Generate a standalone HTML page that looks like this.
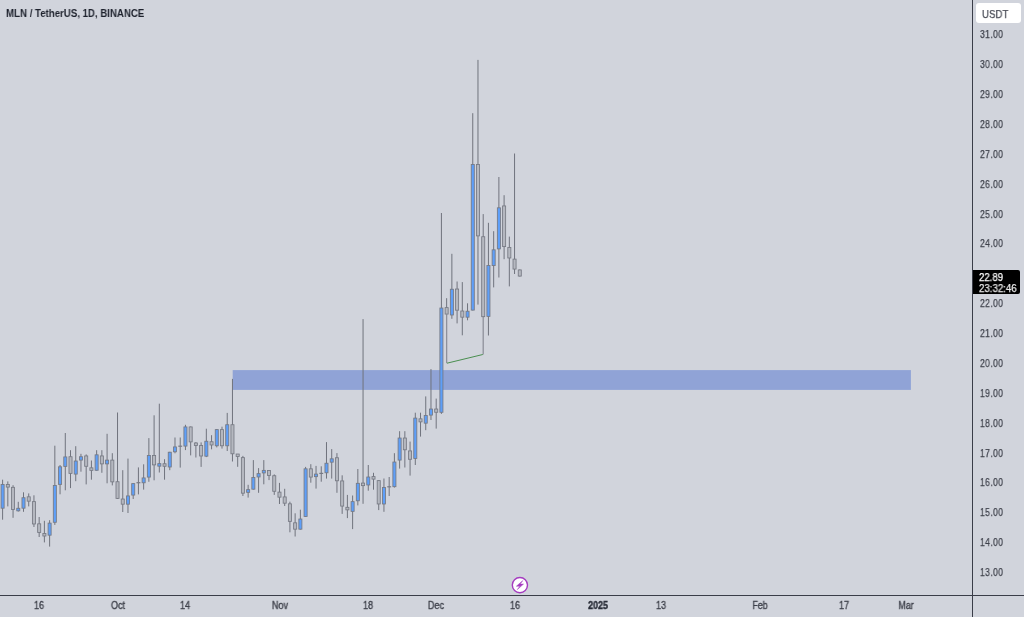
<!DOCTYPE html>
<html><head><meta charset="utf-8"><style>
html,body{margin:0;padding:0;background:#d1d4dc;}
body{width:1024px;height:617px;overflow:hidden;background:#d1d4dc;position:relative;font-family:"Liberation Sans",sans-serif;}
svg{position:absolute;left:0;top:0;}
.pl,.dl,.title,.usdt span,.tag div{will-change:transform;}
.pl,.usdt span,.tag div{-webkit-text-stroke:0.25px currentColor;}
.dl{-webkit-text-stroke:0.35px currentColor;}
.title{position:absolute;left:5.5px;top:7px;font-size:10.5px;line-height:12px;font-weight:bold;color:#1e222d;white-space:nowrap;transform:scaleX(0.92);transform-origin:0 0;}
.pl{position:absolute;left:980px;width:40px;height:14px;line-height:14px;font-size:11px;color:#3e414b;letter-spacing:0.45px;transform:scaleX(0.78);transform-origin:0 50%;white-space:nowrap;}
.dl{position:absolute;top:599px;width:60px;height:14px;line-height:14px;text-align:center;font-size:10px;color:#3e414b;transform:scaleX(0.9);transform-origin:50% 50%;}
.dl.b{font-weight:bold;color:#2a2e39;}
.usdt{position:absolute;left:976px;top:3px;width:44.5px;height:19.5px;background:#fff;border-radius:3px;}
.usdt span{position:absolute;left:6.3px;top:3.8px;font-size:11px;line-height:14px;color:#4a4d57;transform:scaleX(0.88);transform-origin:0 0;}
.tag{position:absolute;left:973px;top:270px;width:47px;height:24px;background:#000;border-radius:0 2px 2px 0;}
.tag div{position:absolute;left:6.4px;font-size:10px;line-height:11px;color:#fff;white-space:nowrap;transform-origin:0 0;}
</style></head><body>
<svg width="1024" height="617" viewBox="0 0 1024 617" shape-rendering="geometricPrecision">
<rect x="232.7" y="370.1" width="678.2" height="19.8" fill="#90a3d6"/>
<line x1="2.60" y1="479.7" x2="2.60" y2="519.7" stroke="#70737d" stroke-width="1"/>
<rect x="1.08" y="484.43" width="3.05" height="23.75" fill="#5e9ff9" stroke="#767983" stroke-width="0.85"/>
<line x1="7.82" y1="481.4" x2="7.82" y2="506.4" stroke="#70737d" stroke-width="1"/>
<rect x="6.30" y="484.53" width="3.05" height="2.55" fill="#b5b8c0" stroke="#767983" stroke-width="0.85"/>
<line x1="13.05" y1="485.2" x2="13.05" y2="517.8" stroke="#70737d" stroke-width="1"/>
<rect x="11.52" y="487.32" width="3.05" height="22.15" fill="#b5b8c0" stroke="#767983" stroke-width="0.85"/>
<line x1="18.27" y1="501.8" x2="18.27" y2="511.6" stroke="#70737d" stroke-width="1"/>
<rect x="16.75" y="508.28" width="3.05" height="2.55" fill="#5e9ff9" stroke="#767983" stroke-width="0.85"/>
<line x1="23.50" y1="492.3" x2="23.50" y2="511.8" stroke="#70737d" stroke-width="1"/>
<rect x="21.97" y="497.73" width="3.05" height="10.45" fill="#5e9ff9" stroke="#767983" stroke-width="0.85"/>
<line x1="28.72" y1="493.4" x2="28.72" y2="506.4" stroke="#70737d" stroke-width="1"/>
<rect x="27.20" y="496.82" width="3.05" height="4.35" fill="#b5b8c0" stroke="#767983" stroke-width="0.85"/>
<line x1="33.94" y1="495.3" x2="33.94" y2="527.0" stroke="#70737d" stroke-width="1"/>
<rect x="32.42" y="501.62" width="3.05" height="22.35" fill="#b5b8c0" stroke="#767983" stroke-width="0.85"/>
<line x1="39.17" y1="517.0" x2="39.17" y2="537.0" stroke="#70737d" stroke-width="1"/>
<rect x="37.64" y="523.82" width="3.05" height="8.65" fill="#b5b8c0" stroke="#767983" stroke-width="0.85"/>
<line x1="44.39" y1="520.8" x2="44.39" y2="542.4" stroke="#70737d" stroke-width="1"/>
<rect x="42.87" y="533.47" width="3.05" height="2.55" fill="#b5b8c0" stroke="#767983" stroke-width="0.85"/>
<line x1="49.62" y1="520.2" x2="49.62" y2="546.6" stroke="#70737d" stroke-width="1"/>
<rect x="48.09" y="523.12" width="3.05" height="12.05" fill="#5e9ff9" stroke="#767983" stroke-width="0.85"/>
<line x1="54.84" y1="445.7" x2="54.84" y2="524.9" stroke="#70737d" stroke-width="1"/>
<rect x="53.31" y="485.43" width="3.05" height="36.85" fill="#5e9ff9" stroke="#767983" stroke-width="0.85"/>
<line x1="60.06" y1="465.0" x2="60.06" y2="494.3" stroke="#70737d" stroke-width="1"/>
<rect x="58.54" y="466.82" width="3.05" height="17.55" fill="#5e9ff9" stroke="#767983" stroke-width="0.85"/>
<line x1="65.29" y1="433.0" x2="65.29" y2="490.3" stroke="#70737d" stroke-width="1"/>
<rect x="63.76" y="456.93" width="3.05" height="9.45" fill="#5e9ff9" stroke="#767983" stroke-width="0.85"/>
<line x1="70.51" y1="450.2" x2="70.51" y2="488.1" stroke="#70737d" stroke-width="1"/>
<rect x="68.99" y="456.73" width="3.05" height="16.65" fill="#b5b8c0" stroke="#767983" stroke-width="0.85"/>
<line x1="75.74" y1="446.2" x2="75.74" y2="481.2" stroke="#70737d" stroke-width="1"/>
<rect x="74.21" y="461.03" width="3.05" height="13.05" fill="#5e9ff9" stroke="#767983" stroke-width="0.85"/>
<line x1="80.96" y1="453.8" x2="80.96" y2="471.7" stroke="#70737d" stroke-width="1"/>
<rect x="79.43" y="456.73" width="3.05" height="3.35" fill="#5e9ff9" stroke="#767983" stroke-width="0.85"/>
<line x1="86.18" y1="454.4" x2="86.18" y2="484.4" stroke="#70737d" stroke-width="1"/>
<rect x="84.66" y="455.93" width="3.05" height="10.35" fill="#b5b8c0" stroke="#767983" stroke-width="0.85"/>
<line x1="91.41" y1="460.5" x2="91.41" y2="479.7" stroke="#70737d" stroke-width="1"/>
<rect x="89.88" y="467.83" width="3.05" height="2.55" fill="#b5b8c0" stroke="#767983" stroke-width="0.85"/>
<line x1="96.63" y1="450.2" x2="96.63" y2="470.7" stroke="#70737d" stroke-width="1"/>
<rect x="95.11" y="454.82" width="3.05" height="15.45" fill="#5e9ff9" stroke="#767983" stroke-width="0.85"/>
<line x1="101.86" y1="450.2" x2="101.86" y2="472.8" stroke="#70737d" stroke-width="1"/>
<rect x="100.33" y="455.93" width="3.05" height="7.95" fill="#b5b8c0" stroke="#767983" stroke-width="0.85"/>
<line x1="107.08" y1="433.8" x2="107.08" y2="483.3" stroke="#70737d" stroke-width="1"/>
<rect x="105.55" y="460.12" width="3.05" height="3.75" fill="#5e9ff9" stroke="#767983" stroke-width="0.85"/>
<line x1="112.30" y1="453.2" x2="112.30" y2="485.4" stroke="#70737d" stroke-width="1"/>
<rect x="110.78" y="460.12" width="3.05" height="21.75" fill="#b5b8c0" stroke="#767983" stroke-width="0.85"/>
<line x1="117.53" y1="412.5" x2="117.53" y2="499.0" stroke="#70737d" stroke-width="1"/>
<rect x="116.00" y="481.73" width="3.05" height="16.65" fill="#b5b8c0" stroke="#767983" stroke-width="0.85"/>
<line x1="122.75" y1="470.2" x2="122.75" y2="512.0" stroke="#70737d" stroke-width="1"/>
<rect x="121.23" y="499.03" width="3.05" height="5.15" fill="#b5b8c0" stroke="#767983" stroke-width="0.85"/>
<line x1="127.98" y1="458.6" x2="127.98" y2="513.0" stroke="#70737d" stroke-width="1"/>
<rect x="126.45" y="495.93" width="3.05" height="8.25" fill="#5e9ff9" stroke="#767983" stroke-width="0.85"/>
<line x1="133.20" y1="483.2" x2="133.20" y2="499.0" stroke="#70737d" stroke-width="1"/>
<rect x="131.68" y="483.62" width="3.05" height="11.45" fill="#5e9ff9" stroke="#767983" stroke-width="0.85"/>
<line x1="138.42" y1="467.4" x2="138.42" y2="494.4" stroke="#70737d" stroke-width="1"/>
<line x1="136.47" y1="482.7" x2="140.37" y2="482.7" stroke="#767983" stroke-width="1.2"/>
<line x1="143.65" y1="464.3" x2="143.65" y2="489.6" stroke="#70737d" stroke-width="1"/>
<rect x="142.12" y="477.93" width="3.05" height="4.85" fill="#5e9ff9" stroke="#767983" stroke-width="0.85"/>
<line x1="148.87" y1="438.1" x2="148.87" y2="481.8" stroke="#70737d" stroke-width="1"/>
<rect x="147.35" y="455.43" width="3.05" height="21.65" fill="#5e9ff9" stroke="#767983" stroke-width="0.85"/>
<line x1="154.10" y1="415.3" x2="154.10" y2="480.3" stroke="#70737d" stroke-width="1"/>
<rect x="152.57" y="455.43" width="3.05" height="9.45" fill="#b5b8c0" stroke="#767983" stroke-width="0.85"/>
<line x1="159.32" y1="403.7" x2="159.32" y2="472.5" stroke="#70737d" stroke-width="1"/>
<rect x="157.80" y="463.62" width="3.05" height="2.55" fill="#5e9ff9" stroke="#767983" stroke-width="0.85"/>
<line x1="164.54" y1="459.2" x2="164.54" y2="479.7" stroke="#70737d" stroke-width="1"/>
<rect x="163.02" y="463.73" width="3.05" height="2.55" fill="#b5b8c0" stroke="#767983" stroke-width="0.85"/>
<line x1="169.77" y1="451.8" x2="169.77" y2="470.2" stroke="#70737d" stroke-width="1"/>
<rect x="168.24" y="452.23" width="3.05" height="14.75" fill="#5e9ff9" stroke="#767983" stroke-width="0.85"/>
<line x1="174.99" y1="437.5" x2="174.99" y2="453.3" stroke="#70737d" stroke-width="1"/>
<rect x="173.47" y="446.93" width="3.05" height="4.85" fill="#5e9ff9" stroke="#767983" stroke-width="0.85"/>
<line x1="180.22" y1="437.5" x2="180.22" y2="467.6" stroke="#70737d" stroke-width="1"/>
<line x1="178.27" y1="446.2" x2="182.17" y2="446.2" stroke="#767983" stroke-width="1.2"/>
<line x1="185.44" y1="424.8" x2="185.44" y2="450.1" stroke="#70737d" stroke-width="1"/>
<rect x="183.92" y="426.93" width="3.05" height="19.15" fill="#5e9ff9" stroke="#767983" stroke-width="0.85"/>
<line x1="190.66" y1="426.5" x2="190.66" y2="455.4" stroke="#70737d" stroke-width="1"/>
<rect x="189.14" y="426.93" width="3.05" height="14.95" fill="#b5b8c0" stroke="#767983" stroke-width="0.85"/>
<line x1="195.89" y1="442.1" x2="195.89" y2="457.5" stroke="#70737d" stroke-width="1"/>
<rect x="194.36" y="442.98" width="3.05" height="2.55" fill="#b5b8c0" stroke="#767983" stroke-width="0.85"/>
<line x1="201.11" y1="442.4" x2="201.11" y2="466.9" stroke="#70737d" stroke-width="1"/>
<rect x="199.59" y="445.53" width="3.05" height="10.45" fill="#b5b8c0" stroke="#767983" stroke-width="0.85"/>
<line x1="206.34" y1="428.7" x2="206.34" y2="457.1" stroke="#70737d" stroke-width="1"/>
<rect x="204.81" y="441.23" width="3.05" height="14.95" fill="#5e9ff9" stroke="#767983" stroke-width="0.85"/>
<line x1="211.56" y1="435.2" x2="211.56" y2="449.3" stroke="#70737d" stroke-width="1"/>
<rect x="210.04" y="441.73" width="3.05" height="3.25" fill="#b5b8c0" stroke="#767983" stroke-width="0.85"/>
<line x1="216.78" y1="429.2" x2="216.78" y2="447.4" stroke="#70737d" stroke-width="1"/>
<rect x="215.26" y="429.62" width="3.05" height="16.15" fill="#5e9ff9" stroke="#767983" stroke-width="0.85"/>
<line x1="222.01" y1="426.7" x2="222.01" y2="448.6" stroke="#70737d" stroke-width="1"/>
<rect x="220.48" y="429.62" width="3.05" height="16.15" fill="#b5b8c0" stroke="#767983" stroke-width="0.85"/>
<line x1="227.23" y1="412.9" x2="227.23" y2="451.0" stroke="#70737d" stroke-width="1"/>
<rect x="225.71" y="424.73" width="3.05" height="21.05" fill="#5e9ff9" stroke="#767983" stroke-width="0.85"/>
<line x1="232.46" y1="378.9" x2="232.46" y2="461.5" stroke="#70737d" stroke-width="1"/>
<rect x="230.93" y="424.73" width="3.05" height="29.05" fill="#b5b8c0" stroke="#767983" stroke-width="0.85"/>
<line x1="237.68" y1="454.2" x2="237.68" y2="466.8" stroke="#70737d" stroke-width="1"/>
<rect x="236.16" y="454.02" width="3.05" height="2.55" fill="#b5b8c0" stroke="#767983" stroke-width="0.85"/>
<line x1="242.90" y1="455.9" x2="242.90" y2="496.0" stroke="#70737d" stroke-width="1"/>
<rect x="241.38" y="457.62" width="3.05" height="35.55" fill="#b5b8c0" stroke="#767983" stroke-width="0.85"/>
<line x1="248.13" y1="484.8" x2="248.13" y2="497.6" stroke="#70737d" stroke-width="1"/>
<rect x="246.60" y="489.62" width="3.05" height="2.75" fill="#5e9ff9" stroke="#767983" stroke-width="0.85"/>
<line x1="253.35" y1="460.1" x2="253.35" y2="489.6" stroke="#70737d" stroke-width="1"/>
<rect x="251.83" y="477.43" width="3.05" height="11.75" fill="#5e9ff9" stroke="#767983" stroke-width="0.85"/>
<line x1="258.58" y1="468.1" x2="258.58" y2="492.8" stroke="#70737d" stroke-width="1"/>
<rect x="257.05" y="473.62" width="3.05" height="3.35" fill="#5e9ff9" stroke="#767983" stroke-width="0.85"/>
<line x1="263.80" y1="460.1" x2="263.80" y2="484.3" stroke="#70737d" stroke-width="1"/>
<rect x="262.28" y="470.38" width="3.05" height="2.55" fill="#5e9ff9" stroke="#767983" stroke-width="0.85"/>
<line x1="269.02" y1="470.0" x2="269.02" y2="480.1" stroke="#70737d" stroke-width="1"/>
<rect x="267.50" y="470.43" width="3.05" height="5.05" fill="#b5b8c0" stroke="#767983" stroke-width="0.85"/>
<line x1="274.25" y1="474.4" x2="274.25" y2="494.9" stroke="#70737d" stroke-width="1"/>
<rect x="272.72" y="475.73" width="3.05" height="15.55" fill="#b5b8c0" stroke="#767983" stroke-width="0.85"/>
<line x1="279.47" y1="482.9" x2="279.47" y2="504.0" stroke="#70737d" stroke-width="1"/>
<rect x="277.95" y="492.12" width="3.05" height="5.05" fill="#b5b8c0" stroke="#767983" stroke-width="0.85"/>
<line x1="284.70" y1="488.8" x2="284.70" y2="506.0" stroke="#70737d" stroke-width="1"/>
<rect x="283.17" y="496.93" width="3.05" height="6.25" fill="#b5b8c0" stroke="#767983" stroke-width="0.85"/>
<line x1="289.92" y1="501.7" x2="289.92" y2="532.3" stroke="#70737d" stroke-width="1"/>
<rect x="288.40" y="503.82" width="3.05" height="17.55" fill="#b5b8c0" stroke="#767983" stroke-width="0.85"/>
<line x1="295.14" y1="513.3" x2="295.14" y2="536.5" stroke="#70737d" stroke-width="1"/>
<rect x="293.62" y="522.82" width="3.05" height="6.35" fill="#b5b8c0" stroke="#767983" stroke-width="0.85"/>
<line x1="300.37" y1="509.7" x2="300.37" y2="529.6" stroke="#70737d" stroke-width="1"/>
<rect x="298.84" y="519.02" width="3.05" height="10.15" fill="#5e9ff9" stroke="#767983" stroke-width="0.85"/>
<line x1="305.59" y1="466.9" x2="305.59" y2="516.9" stroke="#70737d" stroke-width="1"/>
<rect x="304.07" y="468.82" width="3.05" height="47.65" fill="#5e9ff9" stroke="#767983" stroke-width="0.85"/>
<line x1="310.82" y1="464.2" x2="310.82" y2="482.7" stroke="#70737d" stroke-width="1"/>
<rect x="309.29" y="468.82" width="3.05" height="8.25" fill="#b5b8c0" stroke="#767983" stroke-width="0.85"/>
<line x1="316.04" y1="465.9" x2="316.04" y2="488.6" stroke="#70737d" stroke-width="1"/>
<rect x="314.52" y="474.08" width="3.05" height="2.55" fill="#5e9ff9" stroke="#767983" stroke-width="0.85"/>
<line x1="321.26" y1="466.3" x2="321.26" y2="481.7" stroke="#70737d" stroke-width="1"/>
<line x1="319.31" y1="473.4" x2="323.21" y2="473.4" stroke="#767983" stroke-width="1.2"/>
<line x1="326.49" y1="442.1" x2="326.49" y2="478.6" stroke="#70737d" stroke-width="1"/>
<rect x="324.96" y="463.23" width="3.05" height="9.55" fill="#5e9ff9" stroke="#767983" stroke-width="0.85"/>
<line x1="331.71" y1="449.1" x2="331.71" y2="478.6" stroke="#70737d" stroke-width="1"/>
<rect x="330.19" y="458.82" width="3.05" height="3.35" fill="#5e9ff9" stroke="#767983" stroke-width="0.85"/>
<line x1="336.94" y1="453.1" x2="336.94" y2="492.8" stroke="#70737d" stroke-width="1"/>
<rect x="335.41" y="457.73" width="3.05" height="23.05" fill="#b5b8c0" stroke="#767983" stroke-width="0.85"/>
<line x1="342.16" y1="475.3" x2="342.16" y2="513.9" stroke="#70737d" stroke-width="1"/>
<rect x="340.64" y="480.93" width="3.05" height="25.15" fill="#b5b8c0" stroke="#767983" stroke-width="0.85"/>
<line x1="347.38" y1="494.9" x2="347.38" y2="518.1" stroke="#70737d" stroke-width="1"/>
<rect x="345.86" y="507.32" width="3.05" height="2.55" fill="#b5b8c0" stroke="#767983" stroke-width="0.85"/>
<line x1="352.61" y1="495.5" x2="352.61" y2="529.1" stroke="#70737d" stroke-width="1"/>
<rect x="351.08" y="501.62" width="3.05" height="9.75" fill="#5e9ff9" stroke="#767983" stroke-width="0.85"/>
<line x1="357.83" y1="469.0" x2="357.83" y2="505.4" stroke="#70737d" stroke-width="1"/>
<rect x="356.31" y="483.32" width="3.05" height="17.45" fill="#5e9ff9" stroke="#767983" stroke-width="0.85"/>
<line x1="363.06" y1="319.1" x2="363.06" y2="503.8" stroke="#70737d" stroke-width="1"/>
<rect x="361.53" y="483.08" width="3.05" height="2.55" fill="#b5b8c0" stroke="#767983" stroke-width="0.85"/>
<line x1="368.28" y1="465.0" x2="368.28" y2="490.7" stroke="#70737d" stroke-width="1"/>
<rect x="366.76" y="477.03" width="3.05" height="7.95" fill="#5e9ff9" stroke="#767983" stroke-width="0.85"/>
<line x1="373.50" y1="472.8" x2="373.50" y2="489.7" stroke="#70737d" stroke-width="1"/>
<rect x="371.98" y="476.58" width="3.05" height="2.55" fill="#b5b8c0" stroke="#767983" stroke-width="0.85"/>
<line x1="378.73" y1="480.2" x2="378.73" y2="510.1" stroke="#70737d" stroke-width="1"/>
<rect x="377.20" y="480.62" width="3.05" height="23.35" fill="#b5b8c0" stroke="#767983" stroke-width="0.85"/>
<line x1="383.95" y1="478.5" x2="383.95" y2="511.8" stroke="#70737d" stroke-width="1"/>
<rect x="382.43" y="487.53" width="3.05" height="16.45" fill="#5e9ff9" stroke="#767983" stroke-width="0.85"/>
<line x1="389.18" y1="477.0" x2="389.18" y2="496.0" stroke="#70737d" stroke-width="1"/>
<line x1="387.23" y1="486.8" x2="391.13" y2="486.8" stroke="#767983" stroke-width="1.2"/>
<line x1="394.40" y1="453.2" x2="394.40" y2="487.6" stroke="#70737d" stroke-width="1"/>
<rect x="392.88" y="462.03" width="3.05" height="24.65" fill="#5e9ff9" stroke="#767983" stroke-width="0.85"/>
<line x1="399.62" y1="431.2" x2="399.62" y2="468.6" stroke="#70737d" stroke-width="1"/>
<rect x="398.10" y="438.03" width="3.05" height="22.05" fill="#5e9ff9" stroke="#767983" stroke-width="0.85"/>
<line x1="404.85" y1="431.2" x2="404.85" y2="467.5" stroke="#70737d" stroke-width="1"/>
<rect x="403.32" y="438.03" width="3.05" height="11.75" fill="#b5b8c0" stroke="#767983" stroke-width="0.85"/>
<line x1="410.07" y1="441.6" x2="410.07" y2="475.6" stroke="#70737d" stroke-width="1"/>
<rect x="408.55" y="450.93" width="3.05" height="8.35" fill="#b5b8c0" stroke="#767983" stroke-width="0.85"/>
<line x1="415.30" y1="412.7" x2="415.30" y2="465.0" stroke="#70737d" stroke-width="1"/>
<rect x="413.77" y="418.12" width="3.05" height="40.35" fill="#5e9ff9" stroke="#767983" stroke-width="0.85"/>
<line x1="420.52" y1="412.7" x2="420.52" y2="436.6" stroke="#70737d" stroke-width="1"/>
<rect x="419.00" y="418.82" width="3.05" height="3.05" fill="#b5b8c0" stroke="#767983" stroke-width="0.85"/>
<line x1="425.74" y1="396.4" x2="425.74" y2="430.2" stroke="#70737d" stroke-width="1"/>
<rect x="424.22" y="415.43" width="3.05" height="7.75" fill="#5e9ff9" stroke="#767983" stroke-width="0.85"/>
<line x1="430.97" y1="369.1" x2="430.97" y2="420.0" stroke="#70737d" stroke-width="1"/>
<rect x="429.44" y="409.03" width="3.05" height="6.05" fill="#5e9ff9" stroke="#767983" stroke-width="0.85"/>
<line x1="436.19" y1="398.6" x2="436.19" y2="428.6" stroke="#70737d" stroke-width="1"/>
<rect x="434.67" y="409.03" width="3.05" height="3.25" fill="#b5b8c0" stroke="#767983" stroke-width="0.85"/>
<line x1="441.42" y1="213.0" x2="441.42" y2="413.9" stroke="#70737d" stroke-width="1"/>
<rect x="439.89" y="308.03" width="3.05" height="104.25" fill="#5e9ff9" stroke="#767983" stroke-width="0.85"/>
<line x1="446.64" y1="298.2" x2="446.64" y2="314.5" stroke="#70737d" stroke-width="1"/>
<line x1="446.64" y1="314.5" x2="446.64" y2="363.2" stroke="#8e919b" stroke-width="1.3"/>
<rect x="445.12" y="307.62" width="3.05" height="6.45" fill="#b5b8c0" stroke="#767983" stroke-width="0.85"/>
<line x1="451.86" y1="253.8" x2="451.86" y2="318.8" stroke="#70737d" stroke-width="1"/>
<rect x="450.34" y="289.23" width="3.05" height="25.75" fill="#5e9ff9" stroke="#767983" stroke-width="0.85"/>
<line x1="457.09" y1="281.5" x2="457.09" y2="323.4" stroke="#70737d" stroke-width="1"/>
<rect x="455.56" y="289.03" width="3.05" height="21.15" fill="#b5b8c0" stroke="#767983" stroke-width="0.85"/>
<line x1="462.31" y1="282.1" x2="462.31" y2="335.3" stroke="#70737d" stroke-width="1"/>
<rect x="460.79" y="311.03" width="3.05" height="6.15" fill="#b5b8c0" stroke="#767983" stroke-width="0.85"/>
<line x1="467.54" y1="303.3" x2="467.54" y2="320.3" stroke="#70737d" stroke-width="1"/>
<rect x="466.01" y="311.23" width="3.05" height="5.95" fill="#5e9ff9" stroke="#767983" stroke-width="0.85"/>
<line x1="472.76" y1="113.2" x2="472.76" y2="310.5" stroke="#70737d" stroke-width="1"/>
<rect x="471.24" y="164.53" width="3.05" height="145.55" fill="#5e9ff9" stroke="#767983" stroke-width="0.85"/>
<line x1="477.98" y1="59.9" x2="477.98" y2="304.6" stroke="#70737d" stroke-width="1"/>
<rect x="476.46" y="164.53" width="3.05" height="71.35" fill="#b5b8c0" stroke="#767983" stroke-width="0.85"/>
<line x1="483.21" y1="214.1" x2="483.21" y2="317.1" stroke="#70737d" stroke-width="1"/>
<line x1="483.21" y1="317.1" x2="483.21" y2="354.5" stroke="#8e919b" stroke-width="1.3"/>
<rect x="481.68" y="236.73" width="3.05" height="79.95" fill="#b5b8c0" stroke="#767983" stroke-width="0.85"/>
<line x1="488.43" y1="222.8" x2="488.43" y2="335.5" stroke="#70737d" stroke-width="1"/>
<rect x="486.91" y="265.53" width="3.05" height="50.85" fill="#5e9ff9" stroke="#767983" stroke-width="0.85"/>
<line x1="493.66" y1="231.2" x2="493.66" y2="287.4" stroke="#70737d" stroke-width="1"/>
<rect x="492.13" y="249.83" width="3.05" height="15.75" fill="#5e9ff9" stroke="#767983" stroke-width="0.85"/>
<line x1="498.88" y1="177.0" x2="498.88" y2="277.5" stroke="#70737d" stroke-width="1"/>
<rect x="497.36" y="207.83" width="3.05" height="41.05" fill="#5e9ff9" stroke="#767983" stroke-width="0.85"/>
<line x1="504.10" y1="195.2" x2="504.10" y2="259.2" stroke="#70737d" stroke-width="1"/>
<rect x="502.58" y="205.93" width="3.05" height="40.65" fill="#b5b8c0" stroke="#767983" stroke-width="0.85"/>
<line x1="509.33" y1="236.6" x2="509.33" y2="286.4" stroke="#70737d" stroke-width="1"/>
<rect x="507.80" y="247.43" width="3.05" height="10.55" fill="#b5b8c0" stroke="#767983" stroke-width="0.85"/>
<line x1="514.55" y1="153.5" x2="514.55" y2="274.0" stroke="#70737d" stroke-width="1"/>
<rect x="513.03" y="259.12" width="3.05" height="9.95" fill="#b5b8c0" stroke="#767983" stroke-width="0.85"/>
<line x1="519.78" y1="269.5" x2="519.78" y2="276.5" stroke="#70737d" stroke-width="1"/>
<rect x="518.25" y="269.93" width="3.05" height="6.15" fill="#b5b8c0" stroke="#767983" stroke-width="0.85"/>
<line x1="447" y1="363.2" x2="482.8" y2="354.5" stroke="#4a8f50" stroke-width="1"/>
<line x1="0" y1="595.5" x2="1024" y2="595.5" stroke="#3a3d48" stroke-width="1"/>
<line x1="972.5" y1="0" x2="972.5" y2="617" stroke="#3a3d48" stroke-width="1"/>
<circle cx="519.9" cy="585.1" r="7.6" fill="#fff" stroke="#a53cc0" stroke-width="1.4"/>
<path d="M522.8 580.6 L516.4 586.2 L519.9 586.2 L517.3 589.6 L523.5 584.1 L520.2 584.1 Z" fill="#a53cc0" stroke="#a53cc0" stroke-width="0.5" stroke-linejoin="round"/>
</svg>
<div class="title">MLN / TetherUS, 1D, BINANCE</div>
<div class="usdt"><span>USDT</span></div>
<div class="pl" style="top:565.0px">13.00</div>
<div class="pl" style="top:535.2px">14.00</div>
<div class="pl" style="top:505.3px">15.00</div>
<div class="pl" style="top:475.4px">16.00</div>
<div class="pl" style="top:445.5px">17.00</div>
<div class="pl" style="top:415.6px">18.00</div>
<div class="pl" style="top:385.8px">19.00</div>
<div class="pl" style="top:355.9px">20.00</div>
<div class="pl" style="top:326.0px">21.00</div>
<div class="pl" style="top:296.1px">22.00</div>
<div class="pl" style="top:236.4px">24.00</div>
<div class="pl" style="top:206.5px">25.00</div>
<div class="pl" style="top:176.6px">26.00</div>
<div class="pl" style="top:146.7px">27.00</div>
<div class="pl" style="top:116.8px">28.00</div>
<div class="pl" style="top:87.0px">29.00</div>
<div class="pl" style="top:57.1px">30.00</div>
<div class="pl" style="top:27.2px">31.00</div>

<div class="tag"><div style="top:2px;transform:scaleX(0.96)">22.89</div><div style="top:13px;transform:scaleX(0.97);color:#e8e8e8">23:32:46</div></div>
<div class="dl" style="left:9.2px">16</div>
<div class="dl" style="left:87.5px">Oct</div>
<div class="dl" style="left:155.4px">14</div>
<div class="dl" style="left:249.5px">Nov</div>
<div class="dl" style="left:338.3px">18</div>
<div class="dl" style="left:406.2px">Dec</div>
<div class="dl" style="left:484.6px">16</div>
<div class="dl b" style="left:568.1px">2025</div>
<div class="dl" style="left:630.8px">13</div>
<div class="dl" style="left:730.1px">Feb</div>
<div class="dl" style="left:813.7px">17</div>
<div class="dl" style="left:876.4px">Mar</div>

</body></html>
